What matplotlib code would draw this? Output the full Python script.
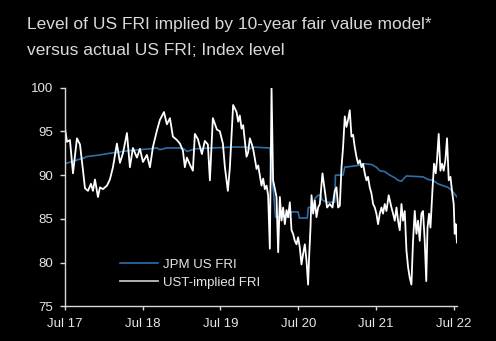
import matplotlib
matplotlib.use('Agg')
import matplotlib.pyplot as plt

plt.rcParams['font.family'] = ['Liberation Sans', 'DejaVu Sans']

# UST-implied FRI (fair value model), decimal years
ust_t = [2017.500, 2017.526, 2017.564, 2017.603, 2017.654, 2017.693, 2017.731, 2017.757,
         2017.796, 2017.834, 2017.860, 2017.886, 2017.924, 2017.950, 2017.988, 2018.040,
         2018.078, 2018.117, 2018.168, 2018.207, 2018.246, 2018.297, 2018.335, 2018.374,
         2018.425, 2018.464, 2018.503, 2018.554, 2018.593, 2018.631, 2018.683, 2018.721,
         2018.773, 2018.811, 2018.850, 2018.888, 2018.940, 2018.978, 2019.017, 2019.042,
         2019.068, 2019.107, 2019.145, 2019.171, 2019.210, 2019.261, 2019.299, 2019.338,
         2019.364, 2019.402, 2019.454, 2019.492, 2019.531, 2019.557, 2019.595, 2019.621,
         2019.663, 2019.707, 2019.728, 2019.749, 2019.771, 2019.792, 2019.814, 2019.835,
         2019.856, 2019.878, 2019.900, 2019.920, 2019.942, 2019.964, 2019.985, 2020.006,
         2020.028, 2020.049, 2020.071, 2020.093, 2020.113, 2020.135, 2020.157, 2020.177,
         2020.221, 2020.242, 2020.264, 2020.285, 2020.306, 2020.328, 2020.350, 2020.370,
         2020.392, 2020.414, 2020.434, 2020.456, 2020.478, 2020.499, 2020.521, 2020.542,
         2020.563, 2020.585, 2020.607, 2020.627, 2020.640, 2020.658, 2020.671, 2020.692,
         2020.713, 2020.735, 2020.756, 2020.778, 2020.812, 2020.842, 2020.871, 2020.906,
         2020.941, 2020.970, 2020.992, 2021.013, 2021.035, 2021.057, 2021.077, 2021.099,
         2021.121, 2021.141, 2021.163, 2021.185, 2021.206, 2021.227, 2021.249, 2021.270,
         2021.292, 2021.314, 2021.334, 2021.356, 2021.378, 2021.398, 2021.420, 2021.442,
         2021.463, 2021.485, 2021.506, 2021.527, 2021.549, 2021.571, 2021.591, 2021.613,
         2021.635, 2021.664, 2021.699, 2021.720, 2021.742, 2021.764, 2021.784, 2021.806,
         2021.828, 2021.848, 2021.870, 2021.892, 2021.913, 2021.934, 2021.956, 2021.977,
         2021.999, 2022.021, 2022.041, 2022.063, 2022.085, 2022.105, 2022.127, 2022.147,
         2022.163, 2022.183, 2022.201, 2022.226, 2022.247, 2022.269, 2022.285, 2022.307,
         2022.329, 2022.350, 2022.371, 2022.393, 2022.414, 2022.436, 2022.458, 2022.478,
         2022.500, 2022.513, 2022.526, 2022.542]
ust_v = [95.4, 93.8, 94.0, 90.2, 94.2, 93.5, 90.6, 88.5,
         88.2, 89.0, 88.2, 89.5, 87.5, 88.6, 88.4, 88.8,
         89.5, 90.9, 93.6, 91.4, 92.5, 94.8, 90.9, 93.1,
         92.0, 93.0, 91.5, 92.3, 90.9, 93.2, 95.1, 96.3,
         97.2, 95.8, 96.5, 94.4, 94.0, 93.6, 92.8, 90.9,
         92.0, 91.2, 90.5, 94.7, 94.1, 92.4, 93.9, 93.5,
         89.4, 96.5, 95.2, 95.0, 93.6, 90.9, 88.2, 90.9,
         98.0, 97.2, 96.1, 96.8, 95.3, 95.7, 93.8, 92.1,
         92.6, 94.2, 93.6, 93.0, 91.9, 90.7, 91.1, 90.0,
         88.8, 89.6, 88.4, 88.8, 87.7, 81.6, 99.9, 89.4,
         87.5, 81.2, 87.5, 84.8, 86.3, 84.4, 86.0, 85.2,
         86.9, 83.7, 83.3, 82.5, 82.1, 82.9, 81.7, 79.8,
         81.0, 82.1, 80.2, 77.5, 80.6, 84.0, 87.7, 85.6,
         87.1, 85.2, 86.3, 86.7, 90.2, 88.2, 86.3, 86.7,
         86.3, 88.2, 88.6, 86.3, 86.5, 90.9, 93.2, 96.7,
         95.5, 96.3, 97.4, 94.4, 94.6, 93.2, 92.1, 91.3,
         91.7, 90.9, 91.3, 90.2, 89.4, 89.8, 88.6, 87.9,
         86.7, 86.3, 85.6, 84.4, 85.6, 86.3, 85.6, 86.7,
         85.9, 87.7, 86.3, 85.6, 84.8, 86.3, 84.8, 83.7,
         86.7, 84.8, 85.9, 81.4, 79.5, 78.3, 77.5, 82.5,
         85.9, 83.3, 84.8, 82.5, 85.6, 85.9, 82.5, 77.9,
         84.0, 85.6, 84.0, 88.2, 91.3, 90.2, 91.7, 94.7,
         90.5, 91.3, 90.5, 91.7, 94.2, 89.4, 89.8, 88.2,
         86.7, 83.3, 84.4, 82.3]

# JPM US FRI
jpm_t = [2017.500, 2017.757, 2017.770, 2017.950, 2018.078, 2018.335, 2018.593, 2018.683,
         2018.721, 2018.811, 2018.978, 2019.029, 2019.068, 2019.107, 2019.171, 2019.389,
         2019.685, 2019.839, 2019.878, 2019.916, 2020.135, 2020.148, 2020.165, 2020.186,
         2020.208, 2020.392, 2020.414, 2020.499, 2020.514, 2020.617, 2020.630, 2020.692,
         2020.713, 2020.756, 2020.791, 2020.803, 2020.864, 2020.970, 2020.979, 2021.077,
         2021.099, 2021.270, 2021.356, 2021.446, 2021.506, 2021.549, 2021.613, 2021.677,
         2021.742, 2021.784, 2021.828, 2021.858, 2021.892, 2022.105, 2022.170, 2022.234,
         2022.298, 2022.362, 2022.427, 2022.478, 2022.542]
jpm_v = [91.3, 92.0, 92.1, 92.3, 92.5, 92.8, 93.0, 93.1,
         92.9, 93.1, 93.1, 93.0, 92.7, 92.8, 93.0, 93.1,
         93.2, 93.2, 93.0, 93.2, 93.1, 91.5, 89.4, 87.7,
         85.2, 85.2, 85.8, 85.8, 85.1, 85.1, 86.3, 86.3,
         87.3, 87.7, 87.7, 87.2, 86.9, 86.9, 90.0, 90.0,
         90.9, 91.1, 91.3, 91.2, 90.9, 90.5, 90.4, 90.0,
         89.7, 89.4, 89.3, 89.6, 89.9, 89.8, 89.5, 89.4,
         89.0, 88.8, 88.6, 88.2, 87.5]

xtick_pos = [2017.5, 2018.5, 2019.5, 2020.5, 2021.5, 2022.5]
xtick_lab = ['Jul 17', 'Jul 18', 'Jul 19', 'Jul 20', 'Jul 21', 'Jul 22']
ytick_pos = [75, 80, 85, 90, 95, 100]

fg = '#d9d9d9'
fig = plt.figure(figsize=(4.96, 3.41), dpi=100, facecolor='black')
ax = fig.add_axes([0.131, 0.1012, 0.790, 0.6422], facecolor='black')

ax.plot(jpm_t, jpm_v, color='#2e6fa7', lw=1.2, label='JPM US FRI')
ax.plot(ust_t, ust_v, color='white', lw=1.3, label='UST-implied FRI')

ax.set_xlim(2017.5, 2022.54)
ax.set_ylim(75, 100)
ax.set_xticks(xtick_pos)
ax.set_xticklabels(xtick_lab)
ax.set_yticks(ytick_pos)

for s in ['top', 'right']:
    ax.spines[s].set_visible(False)
for s in ['left', 'bottom']:
    ax.spines[s].set_color(fg)
    ax.spines[s].set_linewidth(1.0)
ax.tick_params(axis='y', colors=fg, labelsize=9.5, length=3.6, width=1.0, pad=5.0)
ax.tick_params(axis='x', colors=fg, labelsize=9.5, length=3.0, width=1.0, pad=5)
for lab in ax.get_xticklabels() + ax.get_yticklabels():
    lab.set_color('#e6e6e6')

leg = ax.legend(loc='upper left', bbox_to_anchor=(0.140, 0.218), frameon=False,
                fontsize=9.5, handlelength=2.9, handletextpad=0.4,
                labelspacing=0.4, borderpad=0, borderaxespad=0)
for t in leg.get_texts():
    t.set_color('#e6e6e6')
leg.get_lines()[1].set_color('#c0c0c0')

fig.text(0.054, 1 - 29/341, 'Level of US FRI implied by 10-year fair value model*',
         color=fg, fontsize=12.5, va='baseline', ha='left')
fig.text(0.054, 1 - 55/341, 'versus actual US FRI; Index level',
         color=fg, fontsize=12.5, va='baseline', ha='left')

fig.savefig('out.png', dpi=100, facecolor='black')
